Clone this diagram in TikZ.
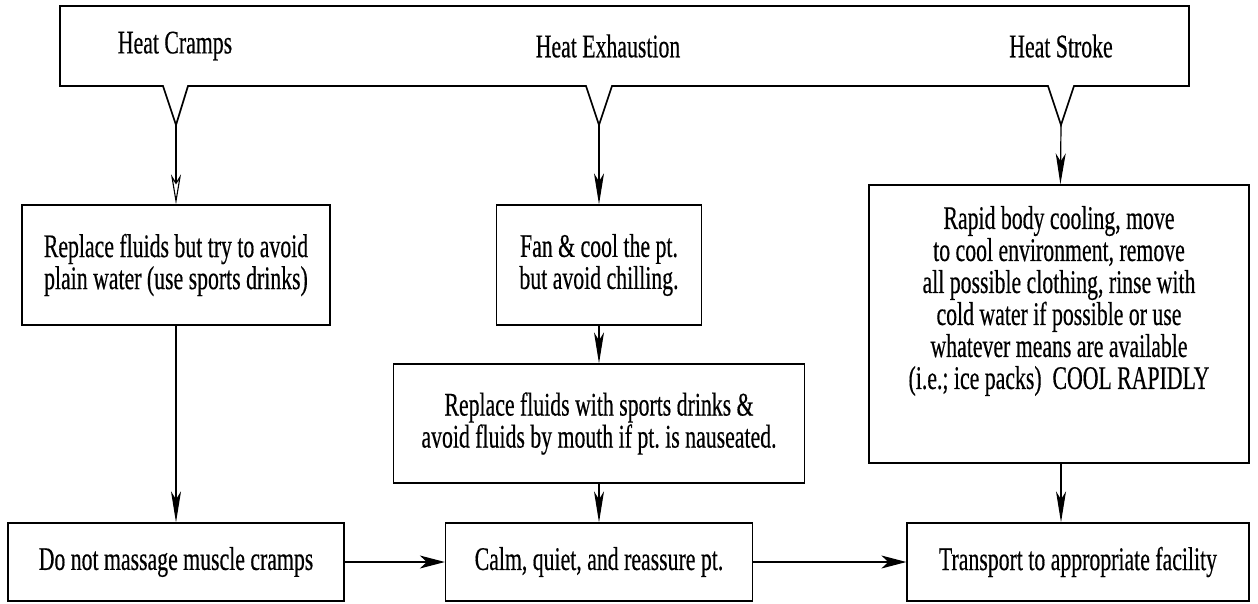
\documentclass[tikz,border=0pt]{standalone}
\usepackage{fontspec}
\setmainfont{Liberation Serif}[FakeStretch=0.66, FakeBold=0.4]
\usetikzlibrary{arrows.meta}
\frenchspacing

\begin{document}
\begin{tikzpicture}[
    x=1pt, y=-1pt,
    every node/.style={font=\fontsize{33}{32}\selectfont},
    stepbox/.style={draw, line width=1.3pt, align=center, inner sep=0pt},
    banner/.style={draw, line width=1.7pt, line join=miter},
    line/.style={draw, line width=1.2pt, -{Stealth[length=31pt, width=10pt, inset=8pt]}},
    hline/.style={draw, line width=1.2pt, -{Stealth[length=25pt, width=13pt, inset=7pt]}},
    openline/.style={draw, line width=1.1pt, -{Stealth[open, length=30pt, width=10pt, inset=8pt]}}
  ]
    \useasboundingbox (0,0) rectangle (1258,603);

    % Banner
    \draw[banner] (60,6) -- (1189,6) -- (1189,86) -- (1074,86) -- (1061,125) -- (1048,86)
      -- (612,86) -- (599,125) -- (586,86) -- (188,86) -- (176,125) -- (163,86) -- (60,86) -- cycle;
    \coordinate (tipA) at (176,125);
    \coordinate (tipB) at (599,125);
    \coordinate (tipC) at (1061,125);
    \node (cramps) at (175,46) {Heat Cramps};
    \node (exhaust) at (608,46) {Heat Exhaustion};
    \node (stroke) at (1061,46) {Heat Stroke};

    % Nodes
    \node[stepbox, minimum width=308pt, minimum height=120pt] (fluidsA) at (176,265)
      {Replace fluids but try to avoid\\plain water (use sports drinks)};
    \node[stepbox, minimum width=205pt, minimum height=120pt] (fan) at (599,265)
      {Fan \& cool the pt.\\but avoid chilling.};
    \node[stepbox, minimum width=411pt, minimum height=119pt] (fluidsB) at (599,423.5)
      {Replace fluids with sports drinks \&\\avoid fluids by mouth if pt. is nauseated.};
    \node[stepbox, minimum width=380pt, minimum height=278pt] (cooling) at (1059,324) {};
    \node[align=center] (coolText) at (1059,301)
      {Rapid body cooling, move\\to cool environment, remove\\all possible clothing, rinse with\\cold water if possible or use\\whatever means are available\\(i.e.; ice packs)\ \ COOL RAPIDLY};
    \node[stepbox, minimum width=336pt, minimum height=78pt] (massage) at (176,562) {Do not massage muscle cramps};
    \node[stepbox, minimum width=307pt, minimum height=78pt] (calm) at (599,562) {Calm, quiet, and reassure pt.};
    \node[stepbox, minimum width=342pt, minimum height=78pt] (transport) at (1078,562) {Transport to appropriate facility};

    % Edges
    \draw[openline] (tipA) -- (fluidsA);
    \draw[line] (tipB) -- (fan);
    \draw[line] (tipC) -- (cooling);
    \draw[line] (fluidsA) -- (massage);
    \draw[line] (fan) -- (fluidsB);
    \draw[line] (fluidsB) -- (calm);
    \draw[line] (cooling.south -| tipC) -- (transport.north -| tipC);
    \draw[hline] (massage) -- (calm);
    \draw[hline] (calm) -- (transport);
  \end{tikzpicture}
\end{document}
